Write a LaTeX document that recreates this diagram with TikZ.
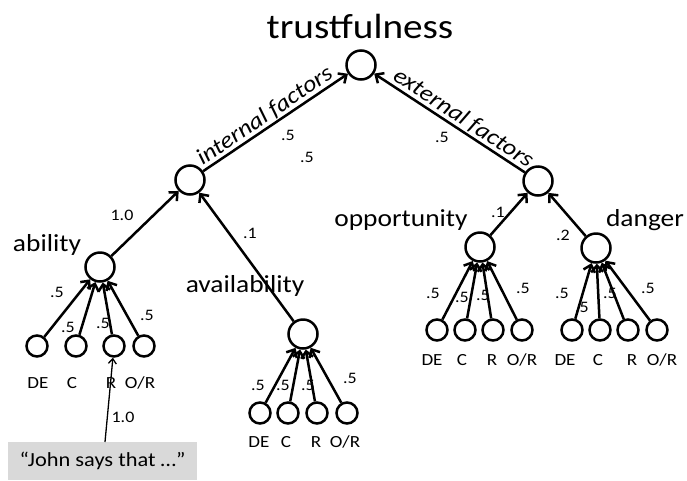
\documentclass[tikz,border=0pt]{standalone}
\usepackage{fontspec}
\setmainfont{Carlito}[FakeStretch=1.12]
\usetikzlibrary{arrows.meta}
\begin{document}
\begin{tikzpicture}[x=1pt,y=-1pt,
  inner/.style={circle,draw,line width=2.5pt,minimum size=29pt,inner sep=0pt},
  leaf/.style={circle,draw,line width=2.5pt,minimum size=21pt,inner sep=0pt},
  arr/.style={line width=2.5pt,-{Straight Barb[length=6.5pt,width=12pt]}},
  thin arr/.style={line width=1.3pt,-{Straight Barb[length=5pt,width=8pt]}},
  big/.style={font=\fontsize{35}{37}\selectfont},
  mid/.style={font=\fontsize{24.5}{26}\selectfont},
  elab/.style={font=\itshape\fontsize{23}{25}\selectfont,inner sep=1pt},
  wt/.style={font=\fontsize{16}{18}\selectfont,inner sep=0pt},
  leaflab/.style={font=\fontsize{17}{19}\selectfont,inner sep=0pt}]
\useasboundingbox (0,0) rectangle (687,480);

% inner nodes
\node[inner] (top) at (361,65) {};
\node[inner] (int) at (190,180) {};
\node[inner] (ext) at (538,181) {};
\node[inner] (ab) at (100,267) {};
\node[inner] (av) at (303,334) {};
\node[inner] (op) at (480,247) {};
\node[inner] (dg) at (596,248) {};

% titles
\node[big] (ttop) at (360,26) {trustfulness};
\node[mid] (tab) at (47,245) {ability};
\node[mid] (tav) at (245,286) {availability};
\node[mid] (top2) at (401,220) {opportunity};
\node[mid] (tdg) at (645,220) {danger};

% leaves
\foreach \n/\x/\y in {a1/37/346,a2/76/346,a3/114/346,a4/144/346,
                      v1/260/413,v2/288/413,v3/317/413,v4/347/413,
                      o1/437/330,o2/465/330,o3/493/330,o4/522/330,
                      d1/572/330,d2/600/330,d3/628/330,d4/657/330}
  \node[leaf] (\n) at (\x,\y) {};

% leaf captions
\foreach \n/\x/\y/\t in {ca1/38/383/DE,ca2/72/383/C,ca3/111/383/R,ca4/140/383/{O/R},
                         cv1/259/442/DE,cv2/286/442/C,cv3/316/442/R,cv4/345/442/{O/R},
                         co1/432/360/DE,co2/462/360/C,co3/492/360/R,co4/522/360/{O/R},
                         cd1/565/360/DE,cd2/598/360/C,cd3/632/360/R,cd4/662/360/{O/R}}
  \node[leaflab] (\n) at (\x,\y) {\t};

% top level connectors
\draw[arr] (int) -- node[elab,sloped,above,pos=0.47] (lint) {internal factors} (top);
\draw[arr] (ext) -- node[elab,sloped,above,pos=0.45] (lext) {external factors} (top);
\node[wt] (w1) at (288,135) {.5};
\node[wt] (w2) at (307,157) {.5};
\node[wt] (w3) at (442,137) {.5};

% second level connectors
\draw[arr] (ab) -- (int);
\draw[arr] (av) -- (int);
\draw[arr] (op) -- (ext);
\draw[arr] (dg) -- (ext);
\node[wt] (w4) at (122,215) {1.0};
\node[wt] (w5) at (250,233) {.1};
\node[wt] (w6) at (498,212) {.1};
\node[wt] (w7) at (563,235) {.2};

% leaf connectors
\foreach \p/\l in {ab/a,av/v,op/o,dg/d}
  \foreach \i in {1,...,4}
    \draw[arr] (\l\i) -- (\p);

\foreach \n/\x/\y in {la1/57/292,la2/68/327,la3/103/323,la4/147/315,
                      lv1/258/385,lv2/283/385,lv3/308/385,lv4/350/378,
                      lo1/433/293,lo2/462/297,lo3/483/295,lo4/523/288,
                      ld1/562/293,ld2/582/307,ld3/610/293,ld4/648/288}
  \node[wt] (\n) at (\x,\y) {.5};

% evidence box
\node[fill=black!15,minimum width=189pt,minimum height=38pt,inner sep=0pt,
      font=\fontsize{20}{22}\selectfont] (john) at (102.5,461) {“John says that …”};
\draw[thin arr] (105,442) -- (a3);
\node[wt] (w8) at (123,417) {1.0};
\end{tikzpicture}
\end{document}
